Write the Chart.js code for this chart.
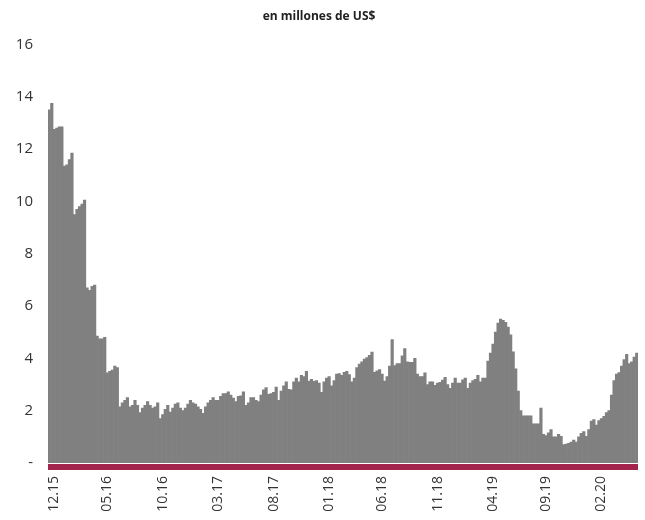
<!DOCTYPE html>
<html>
<head>
<meta charset="utf-8">
<script src="https://cdn.jsdelivr.net/npm/chart.js@4"></script>
<style>
  html, body { margin: 0; padding: 0; background: #ffffff; }
  #wrap { width: 645px; height: 520px; }
</style>
</head>
<body>
<div id="wrap"><canvas id="c" width="645" height="520"></canvas></div>
<script>
// Weekly values (millions of US$), starting the week of 2015-11-16
const startDate = [2015, 10, 16];
const values = [
  13.5, 13.75, 12.75, 12.8, 12.85, 12.85, 11.35, 11.4, 11.6, 11.85,
  9.5, 9.7, 9.8, 9.9, 10.05, 6.7, 6.6, 6.75, 6.8, 4.85,
  4.75, 4.75, 4.8, 3.45, 3.5, 3.55, 3.7, 3.65, 2.15, 2.3,
  2.4, 2.5, 2.15, 2.2, 2.4, 2.2, 1.93, 2.1, 2.2, 2.35,
  2.2, 2.1, 2.15, 2.3, 1.7, 1.85, 2.05, 2.2, 1.95, 2.1,
  2.25, 2.3, 2.1, 2.0, 2.1, 2.25, 2.4, 2.3, 2.25, 2.15,
  2.05, 1.9, 2.15, 2.3, 2.4, 2.5, 2.4, 2.4, 2.55, 2.65,
  2.65, 2.72, 2.6, 2.48, 2.35, 2.55, 2.57, 2.72, 2.2, 2.3,
  2.5, 2.5, 2.4, 2.35, 2.6, 2.8, 2.88, 2.62, 2.65, 2.7,
  2.9, 2.4, 2.75, 2.95, 3.1, 2.82, 2.8, 3.1, 3.25, 3.1,
  3.35, 3.3, 3.5, 3.13, 3.2, 3.12, 3.15, 3.05, 2.7, 3.1,
  3.25, 3.3, 2.95, 3.15, 3.4, 3.42, 3.35, 3.47, 3.5, 3.38,
  3.1, 3.25, 3.65, 3.78, 3.87, 3.97, 4.03, 4.12, 4.24, 3.47,
  3.52, 3.57, 3.4, 3.13, 3.3, 3.7, 4.72, 3.72, 3.8, 3.8,
  4.1, 4.37, 3.87, 3.85, 3.85, 4.0, 3.4, 3.3, 3.3, 3.45,
  3.0, 3.1, 3.1, 2.97, 3.05, 3.08, 3.17, 3.27, 3.0, 2.85,
  3.05, 3.25, 3.05, 3.05, 3.18, 3.25, 2.85, 3.05, 3.15, 3.2,
  3.35, 3.1, 3.25, 3.25, 3.9, 4.2, 4.55, 5.0, 5.35, 5.5,
  5.45, 5.38, 5.2, 4.9, 4.25, 3.6, 2.75, 2.0, 1.8, 1.8,
  1.8, 1.8, 1.5, 1.5, 1.5, 2.1, 1.1, 1.05, 1.15, 1.28,
  1.0, 1.0, 1.1, 1.02, 0.7, 0.72, 0.75, 0.8, 0.88, 0.8,
  1.0, 1.13, 1.2, 1.02, 1.28, 1.6, 1.66, 1.45, 1.62, 1.7,
  1.78, 1.93, 2.0, 2.6, 3.15, 3.4, 3.46, 3.7, 3.95, 4.15,
  3.8, 3.87, 4.05, 4.2
];
const tickLabels = ['12.15', '05.16', '10.16', '03.17', '08.17', '01.18', '06.18', '11.18', '04.19', '09.19', '02.20'];
const yMin = 0, yMax = 16, yStep = 2;
const titleText = 'en millones de US$';

// Week-start dates as categories
const DAY = 86400000;
const t0 = Date.UTC(startDate[0], startDate[1], startDate[2]);
const categories = values.map((_, i) => new Date(t0 + i * 7 * DAY).toISOString().slice(0, 10));

function monthLabelOfWeek(iso) {
  const s = Date.parse(iso + 'T00:00:00Z');
  const e = new Date(s + 6 * DAY);
  if (e.getUTCDate() <= 7) {
    const mm = String(e.getUTCMonth() + 1).padStart(2, '0');
    const yy = String(e.getUTCFullYear() % 100).padStart(2, '0');
    return mm + '.' + yy;
  }
  return '';
}

const FONT = "'Open Sans', 'DejaVu Sans', sans-serif";

const baseLine = {
  id: 'baseLine',
  afterDatasetsDraw(chart) {
    const { ctx, chartArea } = chart;
    ctx.save();
    ctx.fillStyle = '#A3244D';
    ctx.fillRect(chartArea.left, chartArea.bottom + 1, chartArea.right - chartArea.left, 6);
    ctx.restore();
  }
};

new Chart(document.getElementById('c'), {
  type: 'bar',
  data: {
    labels: categories,
    datasets: [{
      data: values,
      backgroundColor: '#808080',
      borderWidth: 0,
      barPercentage: 1.0,
      categoryPercentage: 1.0
    }]
  },
  options: {
    responsive: false,
    animation: false,
    devicePixelRatio: 1,
    layout: { padding: { left: 0, right: 7, top: 0, bottom: 0 } },
    plugins: {
      legend: { display: false },
      tooltip: { enabled: false },
      title: {
        display: true,
        text: titleText,
        color: '#222222',
        font: { family: FONT, size: 12, weight: 'bold' },
        padding: { top: 9, bottom: 21 }
      }
    },
    scales: {
      x: {
        grid: { display: false, drawTicks: false },
        border: { display: false },
        ticks: {
          autoSkip: false,
          minRotation: 90,
          maxRotation: 90,
          padding: 13,
          color: '#333333',
          font: { family: FONT, size: 14 },
          callback: function (value) {
            const lab = monthLabelOfWeek(this.getLabelForValue(value));
            return tickLabels.includes(lab) ? lab : '';
          }
        },
        afterFit: (s) => { s.height = 57; s.paddingLeft = 0; s.paddingRight = 0; }
      },
      y: {
        min: yMin,
        max: yMax,
        grid: { display: false, drawTicks: false },
        border: { display: false },
        ticks: {
          stepSize: yStep,
          padding: 15,
          color: '#333333',
          font: { family: FONT, size: 15 },
          callback: (v) => (v === 0 ? '-' : String(v))
        },
        afterFit: (s) => { s.width = 48; s.paddingTop = 0; s.paddingBottom = 0; }
      }
    }
  },
  plugins: [baseLine]
});
</script>
</body>
</html>
